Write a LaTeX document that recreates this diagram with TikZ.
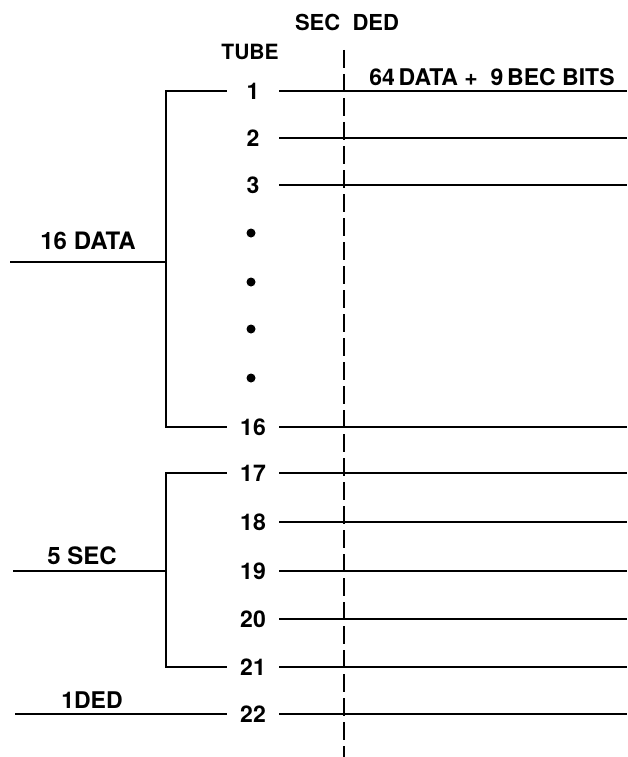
\documentclass[tikz,border=0pt]{standalone}
\usepackage{fontspec}
\setmainfont{TeX Gyre Heros}
\begin{document}
\begin{tikzpicture}[x=1pt,y=-1pt,
  wire/.style={line width=2pt},
  sep/.style={line width=2pt, dash pattern=on 18pt off 6pt},
  tube/.style={inner sep=0pt, minimum width=52pt, font=\fontsize{23}{25}\selectfont\bfseries},
  lbl/.style={inner sep=0pt, font=\fontsize{24}{26}\selectfont\bfseries},
  head/.style={inner sep=0pt, font=\fontsize{22}{24}\selectfont\bfseries},
  dotmark/.style={circle, fill=black, inner sep=0pt, minimum size=9pt}]
\useasboundingbox (0,0) rectangle (627,757);
% headings
\node[head] (secded) at (347,22) {SEC\ \ DED};
\node[head, font=\fontsize{21}{24}\selectfont\bfseries] (tubehd) at (250,52) {TUBE};
\node[head, font=\fontsize{23}{25}\selectfont\bfseries] (bits) at (492,77) {64\,DATA\ +\ \ 9\,BEC BITS};
% tube numbers
\node[tube] (t1) at (253,91) {1};
\node[tube] (t2) at (253,138) {2};
\node[tube] (t3) at (253,185) {3};
\node[tube] (t16) at (253,427) {16};
\node[tube] (t17) at (253,473) {17};
\node[tube] (t18) at (253,522) {18};
\node[tube] (t19) at (253,571) {19};
\node[tube] (t20) at (253,619) {20};
\node[tube] (t21) at (253,667) {21};
\node[tube] (t22) at (253,714) {22};
% dots
\node[dotmark] (dA) at (251,233) {};
\node[dotmark] (dB) at (251,282) {};
\node[dotmark] (dC) at (251,329) {};
\node[dotmark] (dD) at (251,378) {};
% right-hand free ends
\foreach \n/\y in {1/91,2/138,3/185,16/427,17/473,18/522,19/571,20/619,21/667,22/714}
  \coordinate (r\n) at (627,\y);
\foreach \n in {1,2,3,16,17,18,19,20,21,22}
  \draw[wire] (t\n.east) -- (r\n);
% bracket for 16 DATA
\coordinate (b1) at (166,91);
\coordinate (b16) at (166,427);
\coordinate (bm) at (166,262);
\coordinate (dataIn) at (10,262);
\draw[wire] (t1.west) -- (b1) -- (b16) -- (t16.west);
\draw[wire] (dataIn) -- (bm);
\node[lbl] (datalbl) at (88,241) {16\ DATA};
% bracket for 5 SEC
\coordinate (c17) at (166,473);
\coordinate (c21) at (166,667);
\coordinate (cm) at (166,571);
\coordinate (secIn) at (13,571);
\draw[wire] (t17.west) -- (c17) -- (c21) -- (t21.west);
\draw[wire] (secIn) -- (cm);
\node[lbl] (seclbl) at (82,556) {5 SEC};
% 1 DED
\coordinate (dedIn) at (15,714);
\draw[wire] (dedIn) -- (t22.west);
\node[lbl, font=\fontsize{23}{25}\selectfont\bfseries] (dedlbl) at (92,700) {1DED};
% dashed separator
\coordinate (sepTop) at (344,50);
\coordinate (sepBot) at (344,757);
\draw[sep] (sepTop) -- (sepBot);
\end{tikzpicture}
\end{document}
